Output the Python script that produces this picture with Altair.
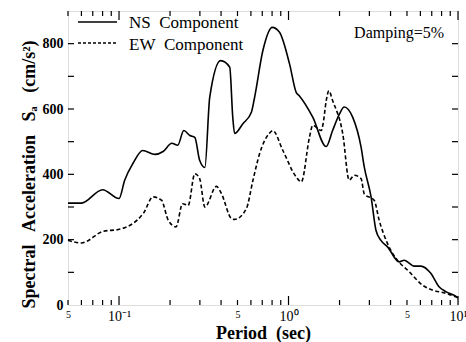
import altair as alt
import pandas as pd

# NS component (solid)
ns_period = [0.05, 0.06, 0.08, 0.1, 0.108, 0.121, 0.138, 0.163, 0.182, 0.205, 0.222, 0.241,
             0.262, 0.28, 0.299, 0.321, 0.343, 0.398, 0.45, 0.469, 0.481, 0.538, 0.604, 0.631,
             0.706, 0.802, 0.885, 1.014, 1.11, 1.16, 1.39, 1.667, 1.82, 2.0, 2.13, 2.39, 2.68,
             2.8, 3.07, 3.28, 3.51, 3.84, 4.5, 4.81, 5.51, 6.03, 6.91, 7.73, 8.47, 9.69, 10.0]
ns_sa = [312, 312, 353, 326, 382, 434, 473, 461, 470, 495, 489, 534,
         519, 513, 443, 421, 636, 748, 728, 574, 525, 555, 590, 636,
         779, 850, 835, 738, 651, 640, 575, 485, 534, 585, 606, 575, 483,
         422, 331, 229, 198, 178, 132, 137, 119, 119, 97, 56, 41, 27, 22]

# EW component (dashed)
ew_period = [0.05, 0.06, 0.081, 0.099, 0.139, 0.159, 0.178, 0.195, 0.217, 0.237, 0.256, 0.28,
             0.299, 0.321, 0.376, 0.402, 0.46, 0.481, 0.564, 0.617, 0.675, 0.766, 0.808, 0.926,
             1.11, 1.19, 1.33, 1.39, 1.56, 1.6, 1.67, 1.73, 1.82, 2.09, 2.28, 2.44, 2.68, 2.8,
             3.2, 3.43, 3.84, 4.3, 5.15, 6.17, 7.06, 8.47, 9.69, 10.0]
ew_sa = [198, 190, 226, 231, 280, 331, 321, 260, 239, 310, 305, 402,
         387, 300, 363, 341, 265, 262, 295, 382, 463, 524, 534, 473,
         392, 377, 514, 550, 534, 555, 626, 656, 626, 524, 382, 397, 387, 340,
         321, 259, 188, 143, 102, 61, 46, 36, 25, 22]

SP = "\u2002"
series_names = ["NS" + SP + "Component", "EW" + SP + "Component"]
x_label_values = [0.05, 0.1, 0.5, 1, 5, 10]
x_major_ticks = [0.1, 1, 10]
x_minor_ticks = [0.05, 0.06, 0.07, 0.08, 0.09, 0.2, 0.3, 0.4, 0.5, 0.6, 0.7, 0.8, 0.9,
                 2, 3, 4, 5, 6, 7, 8, 9]
y_ticks = [100, 200, 300, 400, 500, 600, 700, 800]
y_label_values = [0, 200, 400, 600, 800]

W, H = 390, 294
FONT = "Liberation Serif"

df = pd.concat([
    pd.DataFrame({"period": ns_period, "sa": ns_sa, "comp": series_names[0]}),
    pd.DataFrame({"period": ew_period, "sa": ew_sa, "comp": series_names[1]}),
])

xscale = alt.Scale(type="log", domain=[0.05, 10], nice=False)
yscale = alt.Scale(domain=[0, 900], nice=False)

xaxis = alt.Axis(
    values=x_label_values,
    labelExpr="datum.value == 0.1 ? '10⁻¹' : datum.value == 1 ? '10⁰' : datum.value == 10 ? '10¹' : '5'",
    labelFontSize={"condition": {"test": "datum.value == 0.05 || datum.value == 0.5 || datum.value == 5", "value": 10}, "value": 14},
    tickSize=0, domain=False, grid=False, labelPadding=4, labelFont=FONT,
    labelColor="black", labelFlush=False, labelOverlap=False,
    title="Period" + SP + "(sec)", titleFont=FONT, titleFontSize=18, titleFontWeight="bold",
    titleColor="black", titlePadding=1,
)
yaxis = alt.Axis(
    values=y_label_values, tickSize=0, domain=False, grid=False, labelPadding=5,
    labelFont=FONT, labelFontSize=14, labelFontWeight="bold", labelColor="black",
    title="Spectral" + SP + " Acceleration" + SP + " Sₐ" + SP + " (cm/s²)",
    titleFont=FONT, titleFontSize=18, titleFontWeight="bold", titleColor="black",
    titlePadding=4, titleY=H / 2 + 16,
)

base = alt.Chart(df)
ns_line = base.transform_filter(alt.datum.comp == series_names[0]).mark_line(
    color="black", strokeWidth=1.6, interpolate="monotone"
).encode(
    x=alt.X("period:Q", scale=xscale, axis=xaxis),
    y=alt.Y("sa:Q", scale=yscale, axis=yaxis),
)
ew_line = base.transform_filter(alt.datum.comp == series_names[1]).mark_line(
    color="black", strokeWidth=1.6, strokeDash=[4, 2.5], interpolate="monotone"
).encode(
    x=alt.X("period:Q", scale=xscale),
    y=alt.Y("sa:Q", scale=yscale),
)

xmaj = pd.DataFrame({"t": x_major_ticks})
xmin = pd.DataFrame({"t": x_minor_ticks})
yt = pd.DataFrame({"t": y_ticks})

def xticks(d, length):
    bottom = alt.Chart(d).mark_rule(color="black", strokeWidth=1.2).encode(
        x=alt.X("t:Q", scale=xscale), y=alt.value(H), y2=alt.value(H - length))
    top = alt.Chart(d).mark_rule(color="black", strokeWidth=1.2).encode(
        x=alt.X("t:Q", scale=xscale), y=alt.value(0), y2=alt.value(length))
    return bottom + top

yl = alt.Chart(yt).mark_rule(color="black", strokeWidth=1.2).encode(
    y=alt.Y("t:Q", scale=yscale), x=alt.value(0), x2=alt.value(6))
yr = alt.Chart(yt).mark_rule(color="black", strokeWidth=1.2).encode(
    y=alt.Y("t:Q", scale=yscale), x=alt.value(W), x2=alt.value(W - 6))

one = pd.DataFrame({"a": [0]})
leg_ns = alt.Chart(one).mark_rule(color="black", strokeWidth=1.6).encode(
    x=alt.value(10), x2=alt.value(49), y=alt.value(11))
leg_ew = alt.Chart(one).mark_rule(color="black", strokeWidth=1.6, strokeDash=[3, 2]).encode(
    x=alt.value(10), x2=alt.value(49), y=alt.value(32))
txt_ns = alt.Chart(one).mark_text(align="left", baseline="alphabetic", font=FONT, fontSize=17,
                                  color="black").encode(
    x=alt.value(61), y=alt.value(17), text=alt.value(series_names[0]))
txt_ew = alt.Chart(one).mark_text(align="left", baseline="alphabetic", font=FONT, fontSize=17,
                                  color="black").encode(
    x=alt.value(61), y=alt.value(39), text=alt.value(series_names[1]))
txt_damp = alt.Chart(one).mark_text(align="right", baseline="alphabetic", font=FONT, fontSize=16,
                                    color="black").encode(
    x=alt.value(376), y=alt.value(27), text=alt.value("Damping=5%"))

chart = alt.layer(
    ns_line, ew_line, xticks(xmaj, 9), xticks(xmin, 5), yl, yr,
    leg_ns, leg_ew, txt_ns, txt_ew, txt_damp,
).properties(
    width=W, height=H,
    autosize=alt.AutoSizeParams(type="none"),
    padding={"left": 68, "top": 11, "right": 8, "bottom": 37},
).configure_view(
    stroke="black", strokeWidth=1.6
).configure(background="white")

chart.save("out.html", embed_options={"renderer": "svg", "actions": False})
